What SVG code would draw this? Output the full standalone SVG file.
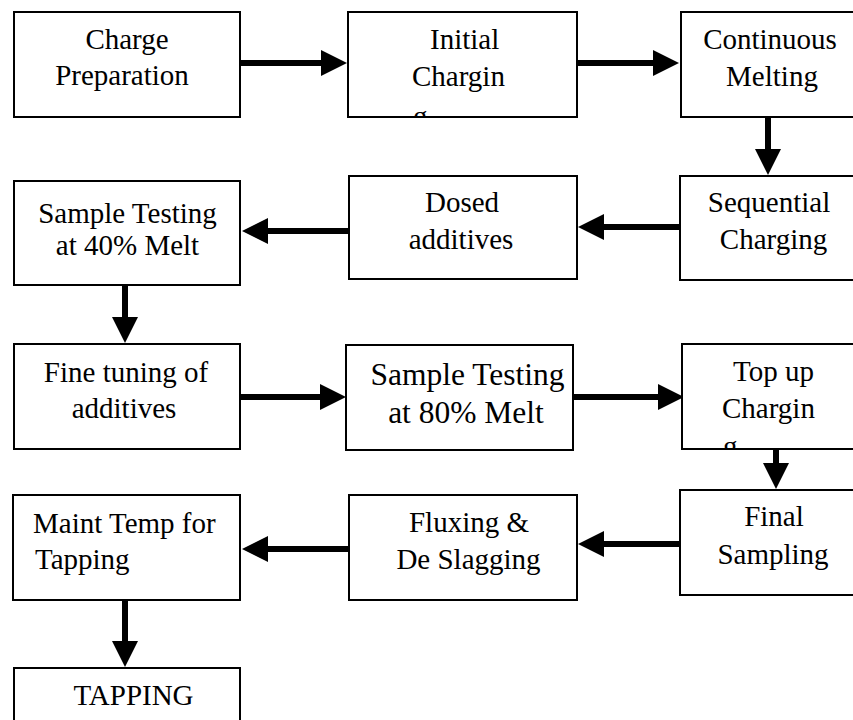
<svg xmlns="http://www.w3.org/2000/svg" width="853" height="720" viewBox="0 0 853 720">
<style>
.box{fill:#fff;stroke:#000;stroke-width:2}
.t{font-family:'Liberation Serif','Times New Roman',Times,serif;font-size:29px;fill:#000}
.m{text-anchor:middle}
.big{font-size:31.5px}
.c{stroke:#000;stroke-width:6;fill:none;marker-end:url(#ah)}
</style>
<defs>
<marker id="ah" viewBox="0 0 26 26" refX="1" refY="13" markerWidth="26" markerHeight="26" markerUnits="userSpaceOnUse" orient="auto">
<path d="M0,0 L26,13 L0,26 Z" fill="#000"/>
</marker>
<clipPath id="clip2"><rect x="348" y="12" width="229" height="104"/></clipPath>
<clipPath id="clip9"><rect x="682" y="344" width="180" height="104"/></clipPath>
</defs>
<rect width="853" height="720" fill="#fff"/>
<g id="connectors">
<line class="c" x1="240" y1="63" x2="322" y2="63"/>
<line class="c" x1="577" y1="63" x2="654" y2="63"/>
<line class="c" x1="768" y1="117" x2="768" y2="150"/>
<line class="c" x1="680" y1="227" x2="603" y2="227"/>
<line class="c" x1="349" y1="231" x2="267" y2="231"/>
<line class="c" x1="125" y1="285" x2="125" y2="318"/>
<line class="c" x1="240" y1="397" x2="321" y2="397"/>
<line class="c" x1="573" y1="397" x2="659" y2="397"/>
<line class="c" x1="776" y1="449" x2="776" y2="464"/>
<line class="c" x1="680" y1="544" x2="603" y2="544"/>
<line class="c" x1="349" y1="549" x2="267" y2="549"/>
<line class="c" x1="125" y1="600" x2="125" y2="642"/>
</g>
<g id="n1">
<rect class="box" x="14" y="12" width="226" height="105"/>
<text class="t m" x="127" y="49">Charge</text>
<text class="t m" x="122" y="84.5">Preparation</text>
</g>
<g id="n2">
<rect class="box" x="348" y="12" width="229" height="105"/>
<g clip-path="url(#clip2)">
<text class="t" x="430" y="48.5">Initial</text>
<text class="t" x="412" y="86">Chargin</text>
<text class="t" x="413" y="126">g</text>
</g>
</g>
<g id="n3">
<rect class="box" x="681" y="12" width="180" height="105"/>
<text class="t m" x="770" y="48.5">Continuous</text>
<text class="t m" x="772" y="85.5">Melting</text>
</g>
<g id="n4">
<rect class="box" x="14" y="181" width="226" height="104"/>
<text class="t m" x="127.5" y="223">Sample Testing</text>
<text class="t m" x="127.5" y="255">at 40% Melt</text>
</g>
<g id="n5">
<rect class="box" x="349" y="176" width="228" height="103"/>
<text class="t m" x="462" y="211.5">Dosed</text>
<text class="t m" x="461" y="249">additives</text>
</g>
<g id="n6">
<rect class="box" x="680" y="176" width="181" height="104"/>
<text class="t m" x="769" y="211.5">Sequential</text>
<text class="t m" x="773.5" y="249">Charging</text>
</g>
<g id="n7">
<rect class="box" x="14" y="344" width="226" height="105"/>
<text class="t m" x="126" y="381.5">Fine tuning of</text>
<text class="t m" x="124" y="418">additives</text>
</g>
<g id="n8">
<rect class="box" x="346" y="345" width="227" height="105"/>
<text class="t m big" x="467.5" y="385">Sample Testing</text>
<text class="t m big" x="466" y="423">at 80% Melt</text>
</g>
<g id="n9">
<rect class="box" x="682" y="344" width="180" height="105"/>
<g clip-path="url(#clip9)">
<text class="t" x="733" y="381">Top up</text>
<text class="t" x="722" y="418">Chargin</text>
<text class="t" x="723" y="456">g</text>
</g>
</g>
<g id="n10">
<rect class="box" x="13" y="495" width="227" height="105"/>
<text class="t" x="33" y="533">Maint Temp for</text>
<text class="t" x="35" y="568.5">Tapping</text>
</g>
<g id="n11">
<rect class="box" x="349" y="495" width="228" height="105"/>
<text class="t m" x="469" y="531.5">Fluxing &amp;</text>
<text class="t m" x="468.5" y="568.5">De Slagging</text>
</g>
<g id="n12">
<rect class="box" x="680" y="490" width="181" height="105"/>
<text class="t m" x="774" y="526">Final</text>
<text class="t m" x="773" y="563.5">Sampling</text>
</g>
<g id="n13">
<rect class="box" x="14" y="668" width="226" height="70"/>
<text class="t m" x="133.5" y="705">TAPPING</text>
</g>
</svg>
